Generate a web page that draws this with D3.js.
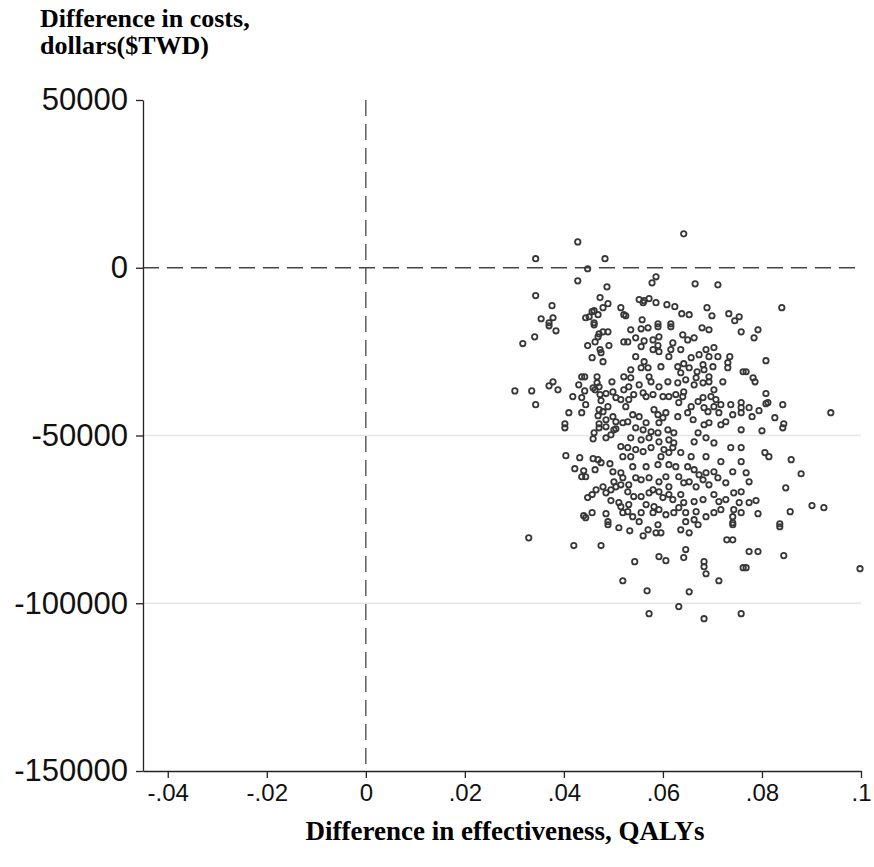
<!DOCTYPE html>
<html>
<head>
<meta charset="utf-8">
<script src="https://cdn.jsdelivr.net/npm/d3@7"></script>
<style>
  body { margin: 0; background: #fff; }
  .tick text { font-family: "Liberation Sans", Arial, sans-serif; fill: #111; }
  .title { font-family: "Liberation Serif", "Times New Roman", serif; font-weight: bold; fill: #000; }
</style>
</head>
<body>
<div id="wrapper"></div>
<script>
// bootstrap replicates: [difference in effectiveness (QALYs), difference in costs ($TWD)]
const replicates = [
  [.0428, 7700], [.0343, 2700], [.0483, 2700], [.0448, -300], [.0428, -3900], [.0487, -5700],
  [.0343, -8300], [.0473, -8900], [.0376, -11300], [.0489, -10700], [.0515, -11900], [.0479, -11900],
  [.0461, -12800], [.0457, -13100], [.0444, -14900], [.0451, -14600], [.0354, -15200], [.0378, -14900],
  [.0370, -16400], [.0461, -16400], [.0521, -14000], [.0469, -14000],
  [.0642, 10100], [.0586, -2700], [.0578, -4500], [.0665, -4800], [.0711, -5100], [.0552, -9500],
  [.0562, -9800], [.0572, -9200], [.0560, -10400], [.0586, -10400], [.0608, -11000], [.0624, -11600],
  [.0689, -11900], [.0638, -13700], [.0653, -14000], [.0699, -14300], [.0733, -13700], [.0754, -14600],
  [.0745, -15800], [.0525, -14300], [.0558, -15500], [.0590, -16700], [.0616, -16700], [.0840, -11900],
  [.0370, -17300], [.0384, -18800], [.0341, -20600], [.0317, -22600], [.0461, -17000], [.0471, -19700],
  [.0479, -19100], [.0489, -19100], [.0469, -20600], [.0463, -22100], [.0448, -23200], [.0491, -23200],
  [.0521, -22100], [.0473, -24400], [.0475, -25300], [.0457, -26800], [.0479, -28000], [.0436, -32500],
  [.0442, -32500], [.0467, -32500], [.0521, -32500], [.0378, -34000], [.0370, -35200], [.0388, -36400],
  [.0430, -34900], [.0467, -34300], [.0471, -35500], [.0463, -36400], [.0459, -35800], [.0497, -34000],
  [.0442, -36700], [.0521, -36400], [.0301, -36700], [.0335, -36700], [.0485, -37500], [.0499, -37000],
  [.0473, -37800], [.0418, -38400], [.0436, -38700], [.0505, -38700], [.0515, -39300], [.0475, -39600],
  [.0444, -40800], [.0343, -40800], [.0489, -41400], [.0471, -42300], [.0479, -42900], [.0410, -43200],
  [.0436, -43200], [.0469, -44100], [.0499, -44400], [.0485, -45300], [.0505, -45900], [.0402, -46500],
  [.0471, -46500], [.0519, -46200],
  [.0535, -18500], [.0556, -18200], [.0570, -17900], [.0590, -17600], [.0616, -17600], [.0679, -17900],
  [.0693, -18500], [.0758, -19100], [.0545, -20900], [.0562, -21800], [.0580, -21500], [.0592, -20600],
  [.0640, -20000], [.0650, -21500], [.0663, -20900], [.0529, -22100], [.0556, -23500], [.0590, -23200],
  [.0580, -24400], [.0592, -25000], [.0616, -24400], [.0636, -24400], [.0620, -22400], [.0703, -23800],
  [.0687, -24400], [.0673, -25900], [.0693, -26500], [.0711, -26500], [.0735, -26500], [.0657, -26800],
  [.0545, -26500], [.0612, -26500], [.0562, -28000], [.0570, -29800], [.0556, -29800], [.0535, -30400],
  [.0596, -29500], [.0630, -29500], [.0642, -28600], [.0653, -29800], [.0636, -31300], [.0681, -28900],
  [.0683, -30400], [.0701, -29500], [.0731, -28300], [.0731, -29800], [.0762, -31000], [.0669, -31000],
  [.0535, -32800], [.0572, -32500], [.0576, -34000], [.0592, -35500], [.0610, -34000], [.0630, -34300],
  [.0646, -33400], [.0667, -32800], [.0663, -34900], [.0681, -34300], [.0693, -34000], [.0693, -32500],
  [.0721, -34000], [.0703, -36400], [.0531, -35500], [.0552, -34900], [.0541, -37800], [.0560, -37300],
  [.0566, -38400], [.0580, -37800], [.0600, -38400], [.0612, -38400], [.0626, -37800], [.0640, -38400],
  [.0642, -37000], [.0632, -40200], [.0671, -39900], [.0681, -38700], [.0697, -38400], [.0707, -39300],
  [.0717, -40800], [.0737, -40800], [.0758, -40200], [.0758, -41700], [.0531, -39300], [.0525, -41400],
  [.0539, -43800], [.0552, -44400], [.0582, -42300], [.0590, -43800], [.0606, -43200], [.0600, -44700],
  [.0630, -44400], [.0650, -43200], [.0657, -41400], [.0661, -45300], [.0683, -41700], [.0691, -42900],
  [.0703, -41400], [.0713, -43200], [.0727, -45900], [.0741, -43800], [.0758, -43200], [.0566, -46200],
  [.0592, -46200], [.0693, -46200], [.0529, -45900],
  [.0792, -18500], [.0784, -20900], [.0808, -27700], [.0768, -31000], [.0782, -32800], [.0786, -34000],
  [.0808, -37500], [.0808, -40500], [.0812, -40200], [.0842, -40800], [.0774, -41700], [.0794, -42600],
  [.0780, -44400], [.0826, -44700], [.0939, -43200], [.0844, -46500],
  [.0402, -47700], [.0461, -49200], [.0471, -47700], [.0485, -47400], [.0501, -48300], [.0459, -51000],
  [.0485, -50700], [.0505, -48000], [.0495, -49800], [.0515, -53300], [.0519, -56300], [.0404, -56000],
  [.0432, -56600], [.0459, -56900], [.0469, -57200], [.0475, -58100], [.0493, -58400], [.0422, -59900],
  [.0440, -60500], [.0463, -60200], [.0436, -62300], [.0444, -62300], [.0499, -60800], [.0515, -61100],
  [.0519, -62600], [.0501, -63800], [.0505, -65300], [.0495, -66200], [.0515, -64700], [.0479, -65300],
  [.0465, -66200], [.0485, -67100], [.0448, -68500], [.0457, -67600], [.0495, -69400], [.0511, -70000],
  [.0515, -71200], [.0440, -73900], [.0457, -73000], [.0444, -74500], [.0485, -73300], [.0489, -75700],
  [.0519, -73000],
  [.0545, -47700], [.0560, -48300], [.0576, -48900], [.0590, -49200], [.0610, -48300], [.0622, -49200],
  [.0683, -46800], [.0717, -46800], [.0671, -49200], [.0687, -50700], [.0703, -52200], [.0758, -48300],
  [.0535, -50700], [.0556, -51300], [.0572, -50700], [.0592, -51900], [.0612, -51300], [.0622, -52200],
  [.0663, -51900], [.0529, -53600], [.0545, -54200], [.0535, -56300], [.0560, -54800], [.0576, -53600],
  [.0596, -56300], [.0602, -54200], [.0612, -55100], [.0620, -53600], [.0636, -55100], [.0657, -56300],
  [.0687, -56300], [.0737, -53600], [.0758, -53600], [.0758, -57800], [.0717, -57800], [.0539, -59300],
  [.0566, -59300], [.0590, -58700], [.0612, -58700], [.0626, -59300], [.0650, -59300], [.0663, -60200],
  [.0673, -61700], [.0703, -60800], [.0741, -60800], [.0711, -62600], [.0687, -61100], [.0545, -62600],
  [.0556, -63200], [.0572, -62600], [.0606, -62300], [.0592, -63800], [.0632, -62300], [.0642, -64100],
  [.0667, -65300], [.0653, -63800], [.0681, -63200], [.0693, -64700], [.0727, -64100], [.0531, -64700],
  [.0529, -66800], [.0580, -66200], [.0612, -65300], [.0541, -68200], [.0556, -68200], [.0572, -67100],
  [.0592, -66800], [.0600, -68500], [.0612, -67600], [.0620, -69100], [.0636, -67600], [.0642, -70000],
  [.0663, -69700], [.0681, -69100], [.0703, -67600], [.0713, -69700], [.0727, -69100], [.0743, -67100],
  [.0758, -66800], [.0754, -70000], [.0743, -72100], [.0531, -70600], [.0566, -70600], [.0582, -71200],
  [.0529, -72700], [.0539, -74200], [.0556, -73000], [.0580, -73000], [.0592, -72100], [.0606, -73600],
  [.0622, -73000], [.0632, -71500], [.0646, -73000], [.0667, -72700], [.0663, -75100], [.0687, -74200],
  [.0703, -73000], [.0717, -72100], [.0741, -74200], [.0758, -73000], [.0552, -75700], [.0646, -75700],
  [.0741, -76000],
  [.0800, -48600], [.0842, -47700], [.0806, -55100], [.0814, -56300], [.0859, -57200], [.0768, -61100],
  [.0774, -63800], [.0879, -61400], [.0848, -65600], [.0774, -70000], [.0788, -69400], [.0901, -70900],
  [.0925, -71500], [.0792, -73300], [.0857, -72700], [.0836, -76300],
  [.0329, -80500], [.0420, -82800], [.0475, -82800], [.0519, -93300], [.0489, -76600], [.0511, -77500],
  [.0533, -78400], [.0560, -79900], [.0570, -78100], [.0586, -79000], [.0596, -79000], [.0590, -76600],
  [.0636, -78100], [.0653, -79000], [.0671, -76600], [.0741, -76600], [.0729, -81100], [.0741, -81100],
  [.0543, -87600], [.0592, -86100], [.0606, -87300], [.0646, -84000], [.0642, -86400], [.0683, -87600],
  [.0683, -89100], [.0687, -91200], [.0713, -93300], [.0762, -89400], [.0568, -96300], [.0653, -96600],
  [.0632, -101000], [.0572, -103100], [.0683, -104600], [.0758, -103100],
  [.0836, -77200], [.0774, -84600], [.0792, -84600], [.0844, -85800], [.0768, -89400], [.0998, -89700]
];

const xTicks = [-0.04, -0.02, 0, 0.02, 0.04, 0.06, 0.08, 0.1];
const xTickLabels = ["-.04", "-.02", "0", ".02", ".04", ".06", ".08", ".1"];
const yTicks = [50000, 0, -50000, -100000, -150000];
const yTickLabels = ["50000", "0", "-50000", "-100000", "-150000"];
const yGridValues = [-50000, -100000];
const yTitleLines = ["Difference in costs,", "dollars($TWD)"];
const xTitle = "Difference in effectiveness, QALYs";

const width = 874;
const height = 867;
const plot = { left: 143, right: 861, top: 100, bottom: 771 };

const svg = d3.select("#wrapper")
  .append("svg")
  .attr("width", width)
  .attr("height", height);

const xScale = d3.scaleLinear()
  .domain([-0.045, 0.1])
  .range([plot.left, plot.right]);

const yScale = d3.scaleLinear()
  .domain([-150000, 50000])
  .range([plot.bottom, plot.top]);

// light grid lines
svg.append("g")
  .selectAll("line")
  .data(yGridValues)
  .join("line")
  .attr("x1", plot.left)
  .attr("x2", plot.right)
  .attr("y1", (d) => yScale(d))
  .attr("y2", (d) => yScale(d))
  .attr("stroke", "#e6e6e6")
  .attr("stroke-width", 1.5);

// reference lines at zero
svg.append("line")
  .attr("x1", xScale(0))
  .attr("x2", xScale(0))
  .attr("y1", plot.top)
  .attr("y2", plot.bottom)
  .attr("stroke", "#444")
  .attr("stroke-width", 1.3)
  .attr("stroke-dasharray", "16,8");

svg.append("line")
  .attr("x1", plot.left)
  .attr("x2", plot.right)
  .attr("y1", yScale(0))
  .attr("y2", yScale(0))
  .attr("stroke", "#444")
  .attr("stroke-width", 1.3)
  .attr("stroke-dasharray", "16,8");

// scatter points
svg.append("g")
  .selectAll("circle")
  .data(replicates)
  .join("circle")
  .attr("cx", (d) => xScale(d[0]))
  .attr("cy", (d) => yScale(d[1]))
  .attr("r", 2.7)
  .attr("fill", "none")
  .attr("stroke", "#383838")
  .attr("stroke-width", 1.8);

// axes
const xAxisGenerator = d3.axisBottom(xScale)
  .tickValues(xTicks)
  .tickFormat((d, i) => xTickLabels[i])
  .tickSizeInner(7)
  .tickSizeOuter(0)
  .tickPadding(6);

const xAxis = svg.append("g")
  .attr("transform", `translate(0, ${plot.bottom})`)
  .call(xAxisGenerator);

const yAxisGenerator = d3.axisLeft(yScale)
  .tickValues(yTicks)
  .tickFormat((d, i) => yTickLabels[i])
  .tickSizeInner(7)
  .tickSizeOuter(0)
  .tickPadding(8);

const yAxis = svg.append("g")
  .attr("transform", `translate(${plot.left}, 0)`)
  .call(yAxisGenerator);

[xAxis, yAxis].forEach((axis) => {
  axis.select(".domain").attr("stroke", "#222").attr("stroke-width", 1.3);
  axis.selectAll(".tick line").attr("stroke", "#222").attr("stroke-width", 1.3);
});
xAxis.selectAll(".tick text").style("font-size", "24px");
yAxis.selectAll(".tick text").style("font-size", "31px");

// titles
svg.append("text")
  .attr("class", "title")
  .attr("x", 40)
  .style("font-size", "26px")
  .selectAll("tspan")
  .data(yTitleLines)
  .join("tspan")
  .attr("x", 40)
  .attr("y", (d, i) => 27 + i * 27)
  .text((d) => d);

svg.append("text")
  .attr("class", "title")
  .attr("x", 505)
  .attr("y", 840)
  .attr("text-anchor", "middle")
  .style("font-size", "27px")
  .text(xTitle);
</script>
</body>
</html>
